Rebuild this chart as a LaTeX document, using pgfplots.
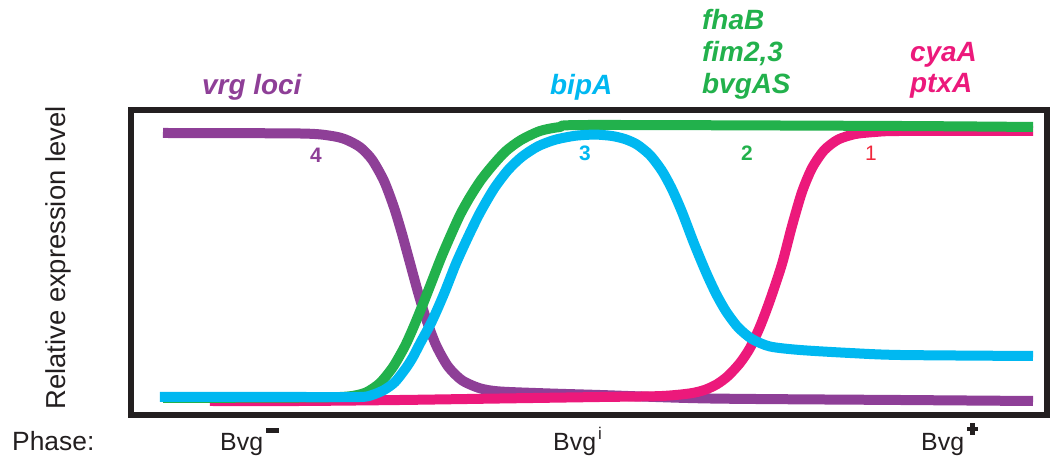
\documentclass[border=0pt]{standalone}
\usepackage{pgfplots}
\pgfplotsset{compat=1.18}
\usepackage{fontspec}
\setmainfont{Liberation Sans}
\definecolor{cpur}{RGB}{142,63,151}
\definecolor{cgrn}{RGB}{34,177,76}
\definecolor{cblu}{RGB}{0,184,241}
\definecolor{cpnk}{RGB}{236,25,123}
\definecolor{cred}{RGB}{240,40,60}
\definecolor{cfrm}{RGB}{35,31,32}
\begin{document}
\begin{tikzpicture}
\begin{axis}[
  x=1bp, y=1bp,
  xmin=131.5, xmax=1046.5, ymin=0, ymax=305,
  axis line style={draw=none}, ticks=none,
  clip=false,
  every axis plot/.append style={line width=10bp, line cap=butt, line join=round, smooth, tension=0.45, no markers},
]
\path (axis cs:0,-44) rectangle (axis cs:1052,415);
% vrg loci
\addplot[cpur] coordinates {(163,282) (300,281.5) (330,279.3) (345,275.8) (360,267.9) (372,255.4) (384,234.1) (394,207.6) (402,181.2) (410,152) (418,122.8) (426,96.4) (436,70) (448,48.6) (462,34.7) (480,26.7) (500,23.5) (550,21.5) (600,20) (710,16.5) (900,15) (1033,14)};
% cyaA ptxA
\addplot[cpnk] coordinates {(210,14) (300,14) (400,15) (500,16.5) (600,18) (660,18.9) (690,21.6) (705,25.2) (717,30.8) (728,39) (740,52) (750,67) (760,88.4) (770,114.8) (782,151) (792,189) (802,223) (812,246.9) (824,264.6) (838,275.4) (855,280.9) (875,283) (900,284) (1033,284)};
% fhaB fim2,3 bvgAS
\addplot[cgrn] coordinates {(163,17) (300,17.5) (340,18) (355,19.5) (367,23) (380,32) (393,48) (405,69) (414,89) (423,111) (432,134) (441,157) (450,178) (460,200) (470,218) (481,235) (493,250) (506,264) (521,275) (540,284) (560,288) (590,290) (900,289) (1033,288)};
% bipA
\addplot[cblu] coordinates {(160,18) (300,18) (360,18) (372,20) (384,25) (395,33) (406,47) (413,58) (420,71.5) (432,93.9) (444,121.2) (456,151.5) (468,177.9) (480,202.3) (494,226.3) (508,244.9) (522,258.3) (538,268.7) (555,275.2) (575,279.2) (595,280.4) (612,279) (625,275.9) (637,270.5) (650,259.9) (662,244.1) (672,225.8) (682,203) (694,171.6) (706,142.7) (716,121.3) (726,103.7) (738,87.7) (752,76) (770,68.5) (800,65) (850,62) (900,60) (1033,59)};
\draw[cfrm, line width=6bp] (rel axis cs:0,0) rectangle (rel axis cs:1,1);
% labels
\begin{scope}[every node/.style={inner sep=0pt, font=\fontsize{28}{30}\selectfont\bfseries\itshape}]
\node[anchor=base west, text=cpur] at (axis cs:202,320) {vrg loci};
\node[anchor=base west, text=cblu] at (axis cs:550,320) {bipA};
\node[anchor=base west, text=cgrn] at (axis cs:702,385) {fhaB};
\node[anchor=base west, text=cgrn] at (axis cs:702,353) {fim2,3};
\node[anchor=base west, text=cgrn] at (axis cs:702,321) {bvgAS};
\node[anchor=base west, text=cpnk] at (axis cs:910,353) {cyaA};
\node[anchor=base west, text=cpnk] at (axis cs:910,322) {ptxA};
\end{scope}
\begin{scope}[every node/.style={inner sep=0pt, font=\fontsize{21}{23}\selectfont\bfseries}]
\node[text=cpur] at (axis cs:316,260) {4};
\node[text=cblu] at (axis cs:585,262) {3};
\node[text=cgrn] at (axis cs:747,262) {2};
\node[text=cred, font=\fontsize{21}{23}\selectfont] at (axis cs:871,262) {1};
\end{scope}
\node[rotate=90, inner sep=0pt, text=cfrm, font=\fontsize{27.5}{29}\selectfont] at (axis cs:58,157) {Relative expression level};
\begin{scope}[every node/.style={inner sep=0pt, anchor=base west, text=cfrm, font=\fontsize{25}{27}\selectfont}]
\node[font=\fontsize{26.5}{28}\selectfont] at (axis cs:12,-36) {Phase:};
\node at (axis cs:220,-36) {Bvg\hspace{3bp}\raisebox{18bp}{\rule{13bp}{5bp}}};
\node at (axis cs:553,-36) {Bvg\hspace{2bp}\raisebox{11bp}{\fontsize{17}{19}\selectfont i}};
\node at (axis cs:921,-36) {Bvg\hspace{3bp}\raisebox{16bp}{\rlap{\rule[3.5bp]{11bp}{4.5bp}}\hspace{3.25bp}\rule{4.5bp}{12bp}\hspace{3.25bp}}};
\end{scope}
\end{axis}
\end{tikzpicture}
\end{document}
